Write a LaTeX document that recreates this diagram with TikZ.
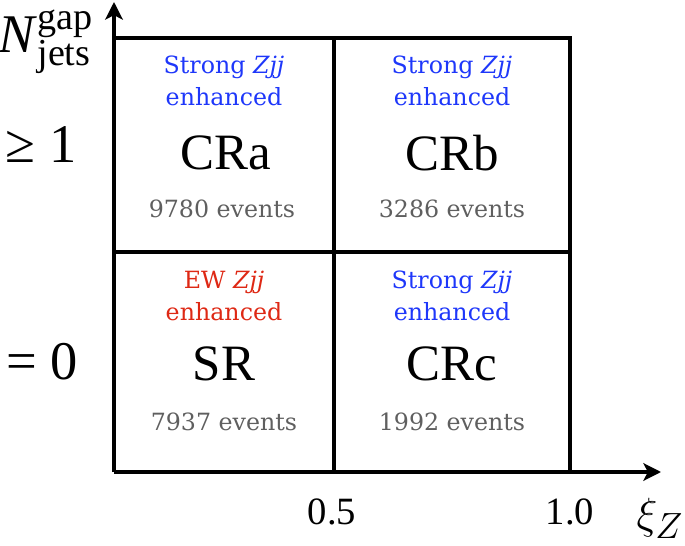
\documentclass[tikz,border=0pt]{standalone}
\usepackage{fontspec}
\setmainfont{Liberation Serif}
\newfontfamily\cellfont{DejaVu Serif}
\usetikzlibrary{arrows.meta}

\definecolor{strongblue}{RGB}{30,55,250}
\definecolor{ewred}{RGB}{222,40,20}
\definecolor{evgray}{RGB}{95,95,95}

\tikzset{
  axisline/.style={line width=2pt, -{Stealth[length=10pt, width=10pt, inset=2.5pt]}},
  gridline/.style={line width=2pt},
  cellhead/.style={font=\cellfont\fontsize{13.5}{18.5}\selectfont, align=center},
  cellname/.style={font=\fontsize{29}{30}\selectfont},
  cellcount/.style={font=\cellfont\fontsize{13.5}{16}\selectfont, text=evgray},
  axislabel/.style={font=\fontsize{31}{32}\selectfont},
  ticklabel/.style={font=\fontsize{22}{24}\selectfont},
}

\begin{document}
\begin{tikzpicture}[x=0.02cm, y=-0.02cm]

  \useasboundingbox (0,0) rectangle (685,546);

  % --- axes ---
  \coordinate (origin) at (114,472);
  \coordinate (ytip) at (114,2);
  \coordinate (xtip) at (661,472);
  \draw[axisline] (origin) -- (ytip);
  \draw[axisline] (origin) -- (xtip);

  % --- grid ---
  \coordinate (tl) at (114,38);
  \coordinate (tr) at (570,38);
  \coordinate (br) at (570,472);
  \coordinate (mt) at (334,38);
  \coordinate (mb) at (334,472);
  \coordinate (ml) at (114,252);
  \coordinate (mr) at (570,252);
  \draw[gridline] (tl) -- (tr) -- (br);
  \draw[gridline] (mt) -- (mb);
  \draw[gridline] (ml) -- (mr);

  % --- CRa ---
  \node[cellhead, text=strongblue] (cra head) at (224,81) {Strong \textit{Zjj}\\enhanced};
  \node[cellname] (cra) at (226,153) {CRa};
  \node[cellcount] (cra count) at (222,209) {9780 events};

  % --- CRb ---
  \node[cellhead, text=strongblue] (crb head) at (452,81) {Strong \textit{Zjj}\\enhanced};
  \node[cellname] (crb) at (452,153) {CRb};
  \node[cellcount] (crb count) at (452,209) {3286 events};

  % --- SR ---
  \node[cellhead, text=ewred] (sr head) at (224,296) {EW \textit{Zjj}\\enhanced};
  \node[cellname] (sr) at (224,364) {SR};
  \node[cellcount] (sr count) at (224,422) {7937 events};

  % --- CRc ---
  \node[cellhead, text=strongblue] (crc head) at (452,296) {Strong \textit{Zjj}\\enhanced};
  \node[cellname] (crc) at (452,364) {CRc};
  \node[cellcount] (crc count) at (452,422) {1992 events};

  % --- axis labels ---
  \node[axislabel] (ylabel) at (46,42) {\textit{N}$^{\mathrm{gap}}_{\mathrm{jets}}$};
  \node[axislabel] (ge one) at (41,145) {≥ 1};
  \node[axislabel] (eq zero) at (42,362) {= 0};
  \node[ticklabel] (half) at (332,512) {0.5};
  \node[ticklabel] (one) at (570,512) {1.0};
  \node[axislabel] (xlabel) at (660,518) {$\xi_Z$};

\end{tikzpicture}
\end{document}
